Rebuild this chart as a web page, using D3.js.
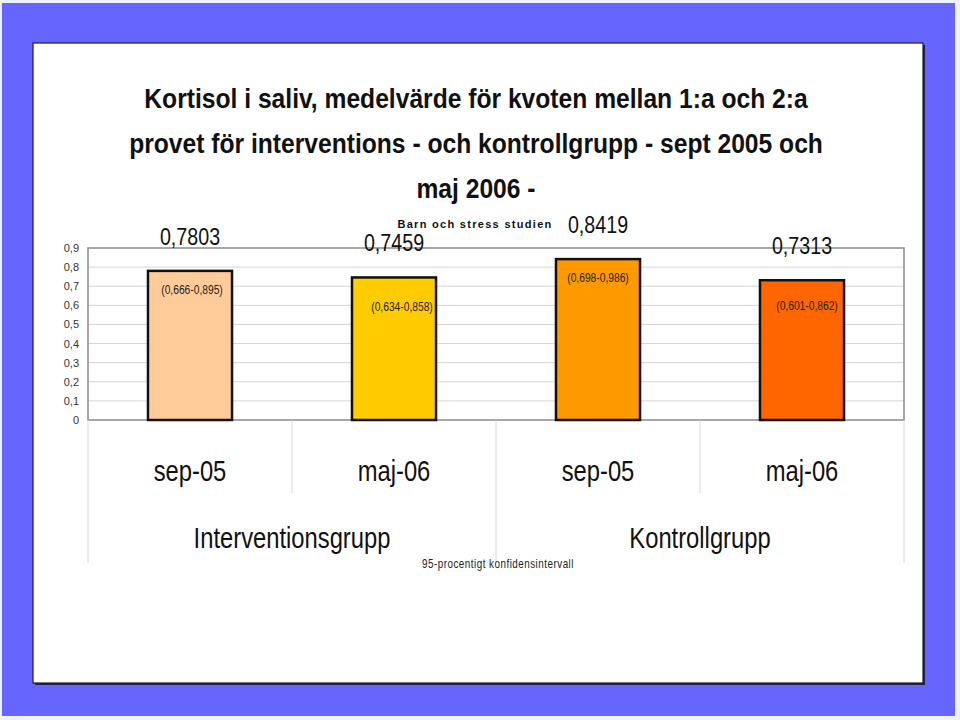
<!DOCTYPE html>
<html>
<head>
<meta charset="utf-8">
<script src="https://cdn.jsdelivr.net/npm/d3@7"></script>
<style>
html,body{margin:0;padding:0;background:#eef3fb;}
svg{display:block;}
</style>
</head>
<body>
<svg id="chart" width="960" height="720"></svg>
<script>
// ---- data ----
const titleLines = [
  "Kortisol i saliv, medelvärde för kvoten mellan 1:a och 2:a",
  "provet för interventions - och kontrollgrupp - sept 2005 och",
  "maj 2006 -"
];
const subtitle = "Barn och stress studien";
const footnote = "95-procentigt konfidensintervall";
const categories = ["sep-05", "maj-06", "sep-05", "maj-06"];
const groups = ["Interventionsgrupp", "Kontrollgrupp"];
const values = [0.7803, 0.7459, 0.8419, 0.7313];
const valueLabels = ["0,7803", "0,7459", "0,8419", "0,7313"];
const ciLabels = ["(0,666-0,895)", "(0,634-0,858)", "(0,698-0,986)", "(0,601-0,862)"];
const yTicks = [0, 0.1, 0.2, 0.3, 0.4, 0.5, 0.6, 0.7, 0.8, 0.9];
const yTickLabels = ["0", "0,1", "0,2", "0,3", "0,4", "0,5", "0,6", "0,7", "0,8", "0,9"];

// ---- styles ----
const barColors = ["#ffcc99", "#ffcc00", "#ff9900", "#ff6600"];
const ciOffset = [[2, 23], [8, 33.5], [0, 23], [5, 30]];
const font = "'Liberation Sans', Arial, sans-serif";
const SX = 0.82; // narrow look
const nt = (x, y, s = SX) => `translate(${x},${y}) scale(${s},1)`;

const svg = d3.select("#chart");

// background
svg.append("rect").attr("x", 2).attr("y", 3).attr("width", 953).attr("height", 713).attr("fill", "#6666ff");
svg.append("rect").attr("x", 35).attr("y", 45).attr("width", 890).attr("height", 640).attr("fill", "#222244");
svg.append("rect").attr("x", 33).attr("y", 43).attr("width", 890).attr("height", 640)
  .attr("fill", "#ffffff").attr("stroke", "#1a1a40").attr("stroke-width", 1.2);

const plot = {left: 88, right: 904, top: 248, bottom: 420};

const x = d3.scaleBand().domain(d3.range(categories.length))
  .range([plot.left, plot.right]).paddingInner(0.588).paddingOuter(0.294);
const y = d3.scaleLinear().domain([0, 0.9]).range([plot.bottom, plot.top]);
const cx = i => x(i) + x.bandwidth() / 2;

// gridlines
svg.append("g").selectAll("line").data(yTicks.slice(1, -1)).join("line")
  .attr("x1", plot.left).attr("x2", plot.right)
  .attr("y1", d => y(d)).attr("y2", d => y(d))
  .attr("stroke", "#d4d4d4").attr("stroke-width", 1);

// plot frame
svg.append("rect").attr("x", plot.left).attr("y", plot.top)
  .attr("width", plot.right - plot.left).attr("height", plot.bottom - plot.top)
  .attr("fill", "none").attr("stroke", "#8a8a8a").attr("stroke-width", 1.5);

// y axis
const yAxis = d3.axisLeft(y).tickValues(yTicks)
  .tickFormat((d, i) => yTickLabels[i]).tickSize(0).tickPadding(9);
const gy = svg.append("g").attr("transform", `translate(${plot.left},0)`).call(yAxis);
gy.select(".domain").remove();
gy.selectAll("text").attr("font-family", font).attr("font-size", 11).attr("fill", "#333");

// bars
svg.append("g").selectAll("rect").data(values).join("rect")
  .attr("x", (d, i) => x(i)).attr("width", x.bandwidth())
  .attr("y", d => y(d)).attr("height", d => y(0) - y(d))
  .attr("fill", (d, i) => barColors[i]).attr("stroke", "#111").attr("stroke-width", 2.5);

// value labels
svg.append("g").selectAll("text").data(values).join("text")
  .attr("transform", (d, i) => nt(cx(i), y(d) - 26))
  .attr("text-anchor", "middle").attr("font-family", font).attr("font-size", 24)
  .attr("fill", "#111").text((d, i) => valueLabels[i]);

// CI labels
svg.append("g").selectAll("text").data(values).join("text")
  .attr("transform", (d, i) => nt(cx(i) + ciOffset[i][0], y(d) + ciOffset[i][1]))
  .attr("text-anchor", "middle").attr("font-family", font).attr("font-size", 12.5)
  .attr("fill", "#222").text((d, i) => ciLabels[i]);

// category area dividers
const step = x.step();
const divs = [
  {x: plot.left, y2: 563}, {x: plot.left + step, y2: 493},
  {x: plot.left + 2 * step, y2: 563}, {x: plot.left + 3 * step, y2: 493},
  {x: plot.right, y2: 563}
];
svg.append("g").selectAll("line").data(divs).join("line")
  .attr("x1", d => d.x).attr("x2", d => d.x).attr("y1", plot.bottom).attr("y2", d => d.y2)
  .attr("stroke", "#d8d8d8").attr("stroke-width", 1);

// category labels
svg.append("g").selectAll("text").data(categories).join("text")
  .attr("transform", (d, i) => nt(cx(i), 481))
  .attr("text-anchor", "middle").attr("font-family", font).attr("font-size", 29)
  .attr("fill", "#111").text(d => d);

// group labels
svg.append("g").selectAll("text").data(groups).join("text")
  .attr("transform", (d, i) => nt(plot.left + (2 * i + 1) * step, 548))
  .attr("text-anchor", "middle").attr("font-family", font).attr("font-size", 29)
  .attr("fill", "#111").text(d => d);

// title
svg.append("g").selectAll("text").data(titleLines).join("text")
  .attr("transform", (d, i) => nt(476, 108 + i * 45, 0.88))
  .attr("text-anchor", "middle").attr("font-family", font).attr("font-weight", "bold")
  .attr("font-size", 28).attr("fill", "#111").text(d => d);

// subtitle
svg.append("text").attr("x", 475).attr("y", 228).attr("text-anchor", "middle")
  .attr("font-family", font).attr("font-weight", "bold")
  .attr("font-size", 11).attr("letter-spacing", 1.3).attr("fill", "#111").text(subtitle);

// footnote
svg.append("text").attr("transform", nt(498, 568)).attr("text-anchor", "middle")
  .attr("font-family", font).attr("font-size", 12).attr("letter-spacing", 0.6)
  .attr("fill", "#222").text(footnote);
</script>
</body>
</html>
